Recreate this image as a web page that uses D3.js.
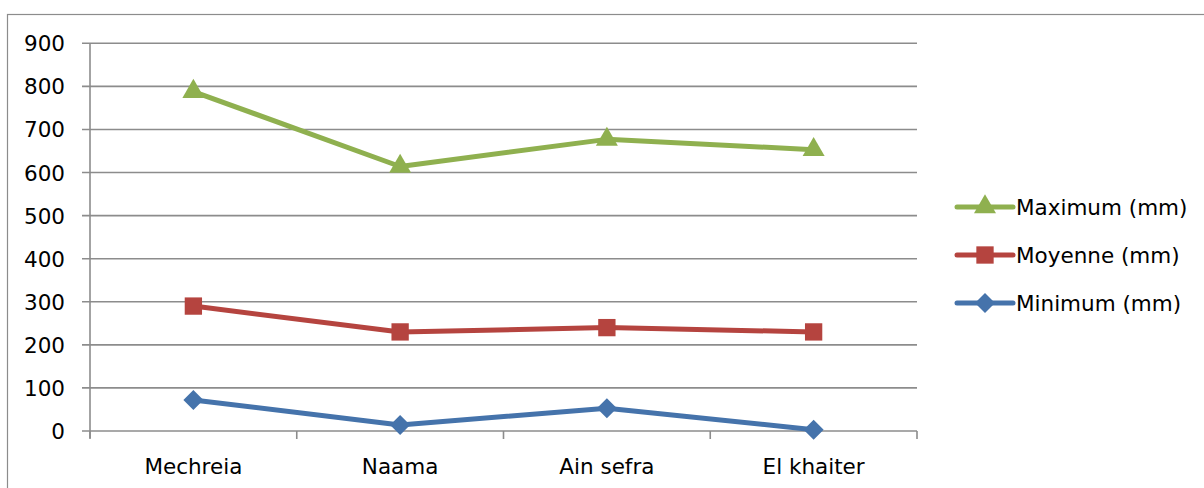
<!DOCTYPE html>
<html lang="fr">
  <head>
    <meta charset="UTF-8" />
    <title>Précipitations</title>
    <style>
      body { margin: 0; background: #fff; }
      svg text { font-family: "DejaVu Sans", sans-serif; fill: #000; }
    </style>
  </head>
  <body>
    <div class="chart"></div>
    <script src="https://d3js.org/d3.v7.min.js"></script>
    <script>
      const categories = ["Mechreia", "Naama", "Ain sefra", "El khaiter"];
      const maximum = [788, 614, 677, 653];
      const moyenne = [290, 230, 240, 230];
      const minimum = [72, 14, 53, 3];
      const yTicks = [0, 100, 200, 300, 400, 500, 600, 700, 800, 900];

      const series = [
        { name: "Maximum (mm)", values: maximum, color: "#8fb04f", symbol: d3.symbolTriangle, size: 210, rot: 0 },
        { name: "Moyenne (mm)", values: moyenne, color: "#b5443f", symbol: d3.symbolSquare, size: 300, rot: 0 },
        { name: "Minimum (mm)", values: minimum, color: "#4573ab", symbol: d3.symbolSquare, size: 200, rot: 45 },
      ];

      const width = 1204;
      const height = 488;

      const svg = d3
        .select(".chart")
        .append("svg")
        .attr("width", width)
        .attr("height", height);

      // cadre
      svg
        .append("rect")
        .attr("x", 7.5)
        .attr("y", 14.5)
        .attr("width", 1210)
        .attr("height", 490)
        .attr("fill", "none")
        .attr("stroke", "#8c8c8c")
        .attr("stroke-width", 1.2);

      const x = d3.scaleBand().domain(categories).range([90, 917]);
      const y = d3.scaleLinear().domain([0, 900]).range([431, 43.3]);

      // grille
      svg
        .append("g")
        .selectAll("line")
        .data(yTicks)
        .join("line")
        .attr("x1", 82)
        .attr("x2", 917)
        .attr("y1", (d) => y(d))
        .attr("y2", (d) => y(d))
        .attr("stroke", "#8c8c8c")
        .attr("stroke-width", 1.6);

      // axe vertical
      svg
        .append("line")
        .attr("x1", 90)
        .attr("x2", 90)
        .attr("y1", y(900))
        .attr("y2", 438)
        .attr("stroke", "#8c8c8c")
        .attr("stroke-width", 1.6);

      // graduations horizontales
      const bounds = categories.map((c) => x(c)).concat([x(categories[3]) + x.bandwidth()]);
      svg
        .append("g")
        .selectAll("line")
        .data(bounds)
        .join("line")
        .attr("x1", (d) => d)
        .attr("x2", (d) => d)
        .attr("y1", y(0))
        .attr("y2", 439)
        .attr("stroke", "#8c8c8c")
        .attr("stroke-width", 1.6);

      svg
        .append("g")
        .selectAll("text")
        .data(yTicks)
        .join("text")
        .attr("x", 65)
        .attr("y", (d) => y(d) + 8)
        .attr("text-anchor", "end")
        .style("font-size", "21.5px")
        .text((d) => d);

      svg
        .append("g")
        .selectAll("text")
        .data(categories)
        .join("text")
        .attr("x", (d) => x(d) + x.bandwidth() / 2)
        .attr("y", 474)
        .attr("text-anchor", "middle")
        .style("font-size", "21.5px")
        .text((d) => d);

      // séries
      const line = d3
        .line()
        .x((d, i) => x(categories[i]) + x.bandwidth() / 2)
        .y((d) => y(d));

      series.forEach((s) => {
        const g = svg.append("g");
        g.append("path")
          .attr("d", line(s.values))
          .attr("fill", "none")
          .attr("stroke", s.color)
          .attr("stroke-width", 5)
          .attr("stroke-linejoin", "round");
        g.selectAll("path.m")
          .data(s.values)
          .join("path")
          .attr("class", "m")
          .attr("d", d3.symbol(s.symbol, s.size))
          .attr("transform", (d, i) => `translate(${x(categories[i]) + x.bandwidth() / 2},${y(d)}) rotate(${s.rot})`)
          .attr("fill", s.color);
      });

      // légende
      const legend = svg
        .append("g")
        .selectAll("g")
        .data(series)
        .join("g")
        .attr("transform", (d, i) => `translate(957,${207 + i * 48})`);

      legend
        .append("line")
        .attr("x1", 0)
        .attr("x2", 56)
        .attr("stroke", (d) => d.color)
        .attr("stroke-width", 5)
        .attr("stroke-linecap", "round");
      legend
        .append("path")
        .attr("d", (d) => d3.symbol(d.symbol, d.size)())
        .attr("transform", (d) => `translate(28,0) rotate(${d.rot})`)
        .attr("fill", (d) => d.color);
      legend
        .append("text")
        .attr("x", 59)
        .attr("y", 8)
        .style("font-size", "21.5px")
        .text((d) => d.name);
    </script>
  </body>
</html>
